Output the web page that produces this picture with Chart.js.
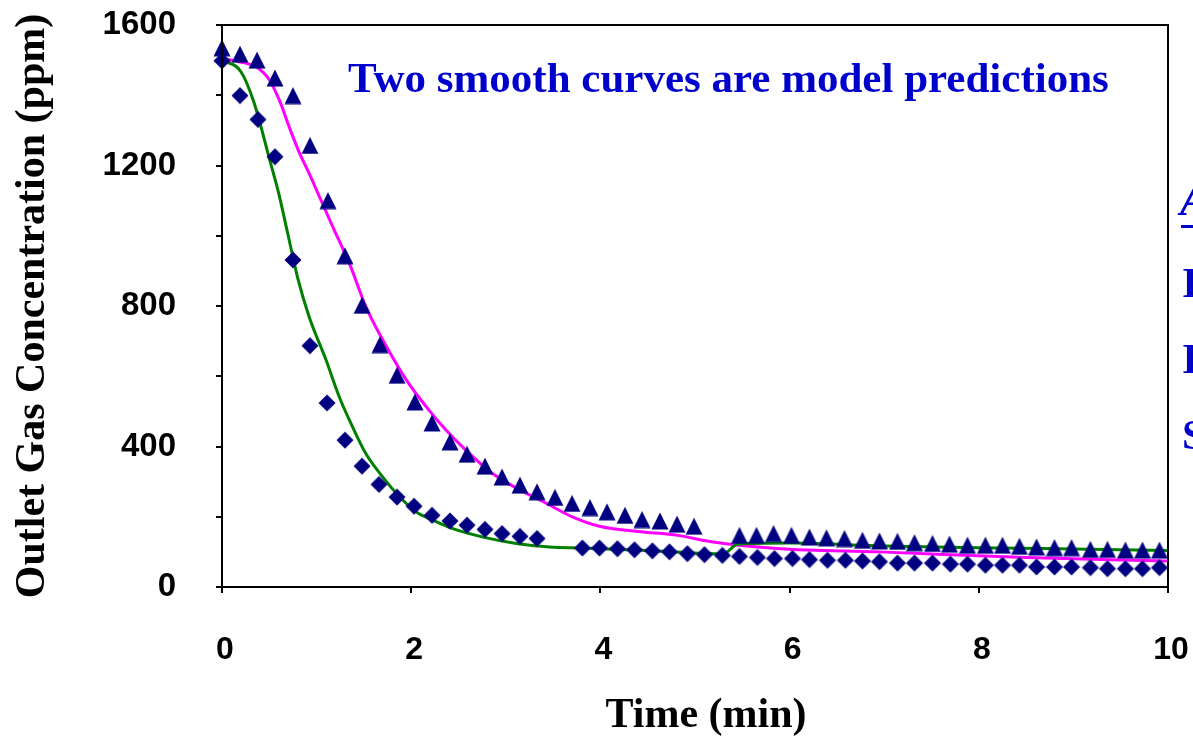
<!DOCTYPE html>
<html>
<head>
<meta charset="utf-8">
<script src="https://cdn.jsdelivr.net/npm/chart.js@4/dist/chart.umd.min.js"></script>
<style>
  body { margin: 0; background: #fff; }
  #wrap { width: 1193px; height: 738px; }
</style>
</head>
<body>
<div id="wrap"><canvas id="chart" width="1193" height="738"></canvas></div>
<script>
// measured data (time in min, concentration in ppm)
const triangleTime = [0, 0.19, 0.37, 0.56, 0.75, 0.93, 1.12, 1.30, 1.48, 1.67, 1.85, 2.04, 2.22, 2.41, 2.59, 2.78, 2.96, 3.15, 3.33, 3.52, 3.70, 3.89, 4.07, 4.26, 4.44, 4.63, 4.81, 4.99,
  5.47, 5.65, 5.83, 6.02, 6.21, 6.39, 6.58, 6.77, 6.95, 7.14, 7.32, 7.51, 7.69, 7.88, 8.07, 8.25, 8.43, 8.61, 8.80, 8.98, 9.18, 9.36, 9.55, 9.73, 9.91];
const triangleConc = [1535, 1517, 1500, 1449, 1399, 1257, 1100, 943, 802, 690, 603, 527, 467, 413, 378, 344, 313, 290, 271, 255, 238, 226, 214, 204, 192, 188, 179, 173,
  147, 147, 152, 147, 142, 140, 138, 133, 131, 130, 126, 124, 122, 119, 119, 119, 116, 114, 112, 112, 107, 107, 105, 105, 105];

const diamondTime = [0, 0.19, 0.38, 0.56, 0.75, 0.93, 1.11, 1.30, 1.48, 1.66, 1.85, 2.03, 2.22, 2.41, 2.59, 2.78, 2.96, 3.15, 3.33,
  3.81, 3.99, 4.18, 4.36, 4.55, 4.73, 4.92, 5.10, 5.29, 5.47, 5.66, 5.84, 6.03, 6.21, 6.40, 6.59, 6.77, 6.95, 7.14, 7.32, 7.51, 7.70, 7.88, 8.07, 8.25, 8.43, 8.61, 8.80, 8.98, 9.18, 9.36, 9.55, 9.73, 9.91];
const diamondConc = [1498, 1399, 1331, 1225, 931, 687, 524, 418, 344, 292, 256, 230, 204, 188, 176, 164, 152, 144, 138,
  111, 111, 109, 106, 103, 100, 95, 92, 90, 87, 84, 81, 81, 78, 76, 76, 74, 72, 68, 68, 68, 65, 65, 62, 62, 62, 57, 57, 57, 55, 52, 52, 52, 55];

// model predictions
const greenTime = [0, 0.2, 0.34, 0.5, 0.6, 0.7, 0.8, 0.92, 1.1, 1.24, 1.38, 1.52, 1.7, 1.88, 2.05, 2.23, 2.44, 2.76, 3.11, 3.46, 3.82, 4.0, 4.5, 5.0, 5.3, 5.45, 6.0, 7.0, 8.0, 9.0, 10.0];
const greenConc = [1500, 1467, 1378, 1220, 1120, 1000, 880, 770, 646, 541, 456, 380, 313, 256, 214, 190, 166, 142, 124, 114, 111, 109, 104, 97, 94, 122, 125, 117, 112, 108, 104];

const magentaTime = [0, 0.22, 0.36, 0.5, 0.62, 0.71, 0.82, 0.92, 1.03, 1.17, 1.36, 1.52, 1.74, 1.95, 2.16, 2.37, 2.58, 2.86, 3.15, 3.43, 3.71, 3.99, 4.4, 4.82, 5.19, 5.9, 6.95, 8.5, 10.0];
const magentaConc = [1505, 1493, 1481, 1444, 1377, 1310, 1235, 1178, 1111, 1026, 912, 798, 684, 589, 513, 446, 389, 323, 276, 238, 199, 173, 158, 147, 128, 109, 100, 84, 74];

const xTicks = [0, 2, 4, 6, 8, 10];
const yTicks = [0, 400, 800, 1200, 1600];

const toPoints = (xs, ys) => xs.map((x, i) => ({x: x, y: ys[i]}));

function markerCanvas(kind) {
  const c = document.createElement('canvas');
  c.width = 18; c.height = 18;
  const g = c.getContext('2d');
  g.fillStyle = '#000080';
  g.beginPath();
  if (kind === 'triangle') {
    g.moveTo(9, 0.5); g.lineTo(17.5, 17.5); g.lineTo(0.5, 17.5);
  } else {
    g.moveTo(9, 0.5); g.lineTo(17.5, 9); g.lineTo(9, 17.5); g.lineTo(0.5, 9);
  }
  g.closePath();
  g.fill();
  return c;
}

const frameAndText = {
  id: 'frameAndText',
  afterDraw(chart) {
    const {ctx, chartArea: a} = chart;
    ctx.save();
    ctx.strokeStyle = '#000';
    ctx.lineWidth = 2;
    ctx.strokeRect(a.left, a.top, a.right - a.left, a.bottom - a.top);

    // x axis title, sits a little right of centre in the original
    ctx.fillStyle = '#000';
    ctx.font = 'bold 42px "Liberation Serif"';
    ctx.textAlign = 'center';
    ctx.textBaseline = 'middle';
    ctx.fillText('Time (min)', 706, 716);

    ctx.textAlign = 'left';
    ctx.textBaseline = 'alphabetic';
    ctx.fillStyle = '#0000CC';
    ctx.font = 'bold 43px "Liberation Serif"';
    ctx.fillText('Two smooth curves are model predictions', 348, 92);

    // text cut off at the right edge of the slide
    ctx.font = 'bold 42px "Liberation Serif"';
    ctx.fillText('I', 1182, 297);
    ctx.fillText('I', 1182, 373);
    ctx.fillText('S', 1182, 449);
    ctx.font = 'italic bold 46px "Liberation Serif"';
    ctx.fillText('A', 1180, 215);
    ctx.fillRect(1181, 225, 12, 3);
    ctx.restore();
  }
};

new Chart(document.getElementById('chart'), {
  type: 'scatter',
  data: {
    datasets: [
      {
        label: 'triangles',
        data: toPoints(triangleTime, triangleConc),
        pointStyle: markerCanvas('triangle'),
        showLine: false,
        clip: false,
        order: 0
      },
      {
        label: 'diamonds',
        data: toPoints(diamondTime, diamondConc),
        pointStyle: markerCanvas('diamond'),
        showLine: false,
        clip: false,
        order: 0
      },
      {
        label: 'model green',
        data: toPoints(greenTime, greenConc),
        showLine: true,
        borderColor: '#008000',
        borderWidth: 3,
        pointRadius: 0,
        cubicInterpolationMode: 'monotone',
        order: 1
      },
      {
        label: 'model magenta',
        data: toPoints(magentaTime, magentaConc),
        showLine: true,
        borderColor: '#FF00FF',
        borderWidth: 3,
        pointRadius: 0,
        cubicInterpolationMode: 'monotone',
        order: 1
      }
    ]
  },
  options: {
    responsive: false,
    animation: false,
    events: [],
    layout: { padding: { left: 0, top: 25, right: 25, bottom: 0 } },
    plugins: { legend: { display: false }, tooltip: { enabled: false } },
    scales: {
      x: {
        type: 'linear',
        min: 0, max: 10,
        afterFit: (s) => { s.height = 151; s.paddingLeft = 0; s.paddingRight = 0; },
        afterBuildTicks: (s) => { s.ticks = xTicks.map(v => ({value: v})); },
        ticks: {
          color: '#000',
          padding: 41,
          labelOffset: 3,
          font: { family: '"Liberation Sans"', weight: 'bold', size: 32, lineHeight: 1 }
        },
        grid: { drawOnChartArea: false, tickLength: 6, color: '#000', lineWidth: 2 },
        border: { color: '#000', width: 2 }
      },
      y: {
        min: 0, max: 1600,
        afterFit: (s) => { s.width = 222; s.paddingTop = 0; s.paddingBottom = 0; },
        ticks: {
          stepSize: 200,
          color: '#000',
          padding: 40,
          callback: (v) => yTicks.includes(v) ? String(v) : '',
          font: { family: '"Liberation Sans"', weight: 'bold', size: 33, lineHeight: 1 }
        },
        grid: { drawOnChartArea: false, tickLength: 6, color: '#000', lineWidth: 2 },
        border: { color: '#000', width: 2 },
        title: {
          display: true,
          text: 'Outlet Gas Concentration (ppm)',
          color: '#000',
          padding: { top: 12, bottom: 0 },
          font: { family: '"Liberation Serif"', weight: 'bold', size: 42, lineHeight: 1 }
        }
      }
    }
  },
  plugins: [frameAndText]
});
</script>
</body>
</html>
